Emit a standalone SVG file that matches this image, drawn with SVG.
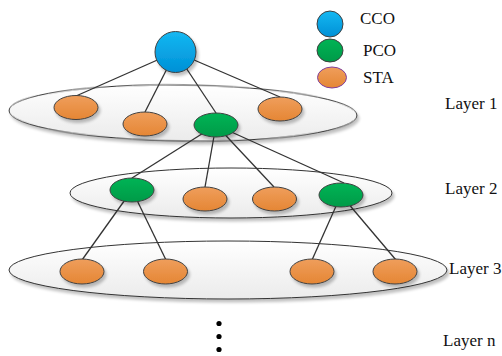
<svg xmlns="http://www.w3.org/2000/svg" width="502" height="356" viewBox="0 0 502 356">
<defs>
<linearGradient id="gOr" x1="0" y1="0" x2="0" y2="1"><stop offset="0" stop-color="#EF9E5C"/><stop offset="1" stop-color="#E58634"/></linearGradient>
<linearGradient id="gGr" x1="0" y1="0" x2="0" y2="1"><stop offset="0" stop-color="#00B455"/><stop offset="1" stop-color="#009A48"/></linearGradient>
<linearGradient id="gBl" x1="0" y1="0" x2="0" y2="1"><stop offset="0" stop-color="#14B8F2"/><stop offset="1" stop-color="#0090D6"/></linearGradient>
<linearGradient id="gLy" x1="0" y1="0" x2="0" y2="1"><stop offset="0" stop-color="#FFFFFF"/><stop offset="1" stop-color="#EBEBEB"/></linearGradient>
<filter id="sh" x="-20%" y="-20%" width="150%" height="160%"><feGaussianBlur in="SourceAlpha" stdDeviation="1.5"/><feOffset dx="2" dy="2.5"/><feComponentTransfer><feFuncA type="linear" slope="0.25"/></feComponentTransfer><feMerge><feMergeNode/><feMergeNode in="SourceGraphic"/></feMerge></filter>
</defs>
<style>
.sta{fill:url(#gOr);stroke:#404040;stroke-width:1}
.pco{fill:url(#gGr);stroke:#404040;stroke-width:1}
.cco{fill:url(#gBl);stroke:#404040;stroke-width:1}
.layer{fill:url(#gLy);stroke:#333;stroke-width:1}
.edge{stroke:#333;stroke-width:1.3;fill:none}
text{font-family:"Liberation Serif","Times New Roman",serif;font-size:17px;fill:#111}
</style>
<g id="layers">
<ellipse id="layer1" class="layer" cx="183" cy="113" rx="174" ry="28" transform="rotate(0.8 183 113)" filter="url(#sh)"/>
<ellipse id="layer2" class="layer" cx="231" cy="193" rx="161" ry="25" filter="url(#sh)"/>
<ellipse id="layer3" class="layer" cx="228" cy="270" rx="219" ry="29" filter="url(#sh)"/>
</g>
<g id="connectors">
<line class="edge" x1="175.5" y1="52" x2="76" y2="96"/>
<line class="edge" x1="175.5" y1="52" x2="145" y2="112"/>
<line class="edge" x1="175.5" y1="52" x2="216" y2="113"/>
<line class="edge" x1="175.5" y1="52" x2="280" y2="97"/>
<line class="edge" x1="216" y1="125" x2="132" y2="178"/>
<line class="edge" x1="216" y1="125" x2="205" y2="187"/>
<line class="edge" x1="216" y1="125" x2="274" y2="187"/>
<line class="edge" x1="216" y1="125" x2="344" y2="183"/>
<line class="edge" x1="132" y1="190" x2="82" y2="260"/>
<line class="edge" x1="132" y1="190" x2="166" y2="260"/>
<line class="edge" x1="341" y1="195" x2="312" y2="260"/>
<line class="edge" x1="341" y1="195" x2="396" y2="260"/>
</g>
<g id="cco"><circle class="cco" cx="175.5" cy="52" r="20.5" filter="url(#sh)"/></g>
<g id="l1-sta1"><ellipse class="sta" cx="76" cy="107.5" rx="22" ry="12" filter="url(#sh)"/></g>
<g id="l1-sta2"><ellipse class="sta" cx="145" cy="124" rx="22" ry="12" filter="url(#sh)"/></g>
<g id="l1-pco"><ellipse class="pco" cx="216" cy="125" rx="22" ry="12" filter="url(#sh)"/></g>
<g id="l1-sta3"><ellipse class="sta" cx="280" cy="109" rx="22" ry="12" filter="url(#sh)"/></g>
<g id="l2-pco1"><ellipse class="pco" cx="132" cy="190" rx="22" ry="12" filter="url(#sh)"/></g>
<g id="l2-sta1"><ellipse class="sta" cx="205" cy="199" rx="22" ry="12" filter="url(#sh)"/></g>
<g id="l2-sta2"><ellipse class="sta" cx="274.5" cy="199" rx="22" ry="12" filter="url(#sh)"/></g>
<g id="l2-pco2"><ellipse class="pco" cx="341" cy="195" rx="22" ry="12" filter="url(#sh)"/></g>
<g id="l3-sta1"><ellipse class="sta" cx="82" cy="271.5" rx="22" ry="12.5" filter="url(#sh)"/></g>
<g id="l3-sta2"><ellipse class="sta" cx="165.5" cy="271.5" rx="22" ry="12.5" filter="url(#sh)"/></g>
<g id="l3-sta3"><ellipse class="sta" cx="312" cy="271.5" rx="22" ry="12.5" filter="url(#sh)"/></g>
<g id="l3-sta4"><ellipse class="sta" cx="395" cy="271.5" rx="22" ry="12.5" filter="url(#sh)"/></g>
<g id="legend">
<circle class="cco" cx="330" cy="24" r="13"/>
<ellipse class="pco" cx="330" cy="50.5" rx="13" ry="11.5"/>
<ellipse class="sta" cx="332" cy="77.5" rx="14.5" ry="10.5" style="stroke:#8040A0"/>
<text x="360" y="24">CCO</text>
<text x="363" y="56">PCO</text>
<text x="363" y="83">STA</text>
</g>
<g id="labels">
<text x="445" y="109">Layer 1</text>
<text x="445" y="194">Layer 2</text>
<text x="449" y="274">Layer 3</text>
<text x="443" y="346">Layer n</text>
</g>
<g id="dots" fill="#000">
<circle cx="219" cy="323.5" r="2.6"/>
<circle cx="219" cy="336.5" r="2.6"/>
<circle cx="219" cy="349.5" r="2.6"/>
</g>
</svg>
